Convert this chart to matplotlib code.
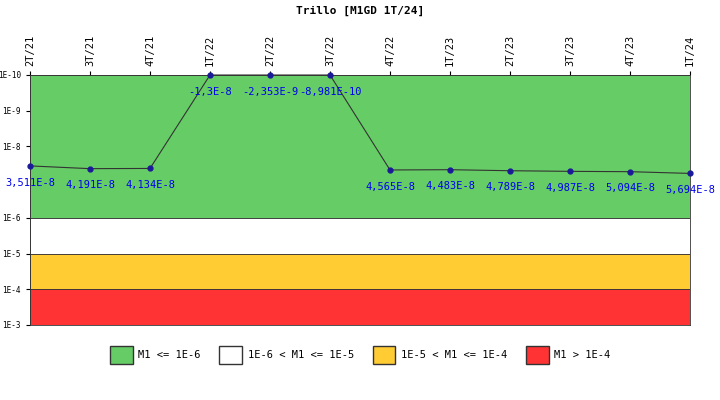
import matplotlib
matplotlib.use("Agg")
import matplotlib.pyplot as plt
from matplotlib.patches import Patch

quarters = ["2T/21", "3T/21", "4T/21", "1T/22", "2T/22", "3T/22",
            "4T/22", "1T/23", "2T/23", "3T/23", "4T/23", "1T/24"]
values = [3.511e-8, 4.191e-8, 4.134e-8, -1.3e-8, -2.353e-9, -8.981e-10,
          4.565e-8, 4.483e-8, 4.789e-8, 4.987e-8, 5.094e-8, 5.694e-8]
labels = ["3,511E-8", "4,191E-8", "4,134E-8", "-1,3E-8", "-2,353E-9", "-8,981E-10",
          "4,565E-8", "4,483E-8", "4,789E-8", "4,987E-8", "5,094E-8", "5,694E-8"]
bands = [(1e-10, 1e-6, "#66cc66", "M1 <= 1E-6"),
         (1e-6, 1e-5, "#ffffff", "1E-6 < M1 <= 1E-5"),
         (1e-5, 1e-4, "#ffcc33", "1E-5 < M1 <= 1E-4"),
         (1e-4, 1e-3, "#ff3333", "M1 > 1E-4")]
ymin, ymax = 1e-10, 1e-3

fig = plt.figure(figsize=(7.2, 4.0), dpi=100)
ax = fig.add_axes([30/720, 75/400, 660/720, 250/400])
ax.set_yscale("log")
ax.set_ylim(ymax, ymin)
ax.set_xlim(0, len(quarters) - 1)

for lo, hi, c, _ in bands:
    ax.axhspan(lo, hi, facecolor=c, edgecolor="#333333", linewidth=0.6)

x = list(range(len(quarters)))
yplot = [v if v > ymin else ymin for v in values]
ax.plot(x, yplot, color="#333333", linewidth=0.8, marker="o",
        markersize=3.5, markerfacecolor="#1a1a99", markeredgecolor="#1a1a99",
        zorder=5, clip_on=False)
for xi, yi, t in zip(x, yplot, labels):
    ax.annotate(t, (xi, yi), xytext=(0, -12), textcoords="offset points",
                ha="center", va="center", fontsize=7.5, color="#0000ee",
                fontfamily="DejaVu Sans Mono", zorder=6)

ticks = [1e-10, 1e-9, 1e-8, 1e-6, 1e-5, 1e-4, 1e-3]
ax.set_yticks(ticks)
ax.set_yticklabels(["1E-10", "1E-9", "1E-8", "1E-6", "1E-5", "1E-4", "1E-3"],
                   fontsize=5.5, fontfamily="DejaVu Sans Mono")
ax.minorticks_off()
ax.tick_params(length=3)
ax.xaxis.tick_top()
ax.set_xticks(x)
ax.set_xticklabels(quarters, rotation=90, fontsize=7.5, fontfamily="DejaVu Sans Mono")
for s in ax.spines.values():
    s.set_color("#333333")
    s.set_linewidth(0.6)

fig.text(0.5, 1 - 11/400, "Trillo [M1GD 1T/24]", ha="center", va="center",
         fontsize=8, fontweight="bold", fontfamily="DejaVu Sans Mono")

handles = [Patch(facecolor=c, edgecolor="#333333", label=l) for _, _, c, l in bands]
fig.legend(handles=handles, loc="center", bbox_to_anchor=(0.5, 1 - 355/400), ncol=4,
           frameon=False, handlelength=2.2, handleheight=2.2, handletextpad=0.5,
           columnspacing=1.8, prop={"family": "DejaVu Sans Mono", "size": 7.5})

fig.savefig("out.png", dpi=100)
